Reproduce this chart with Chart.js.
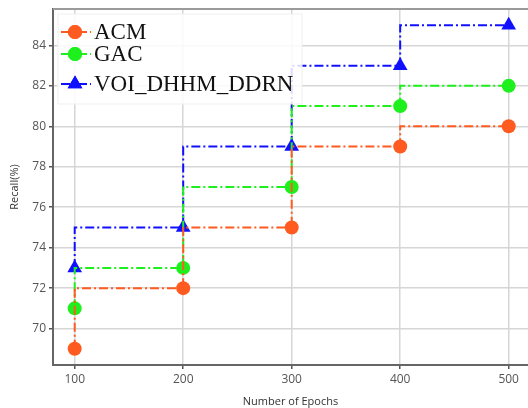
<!DOCTYPE html>
<html>
<head>
<meta charset="utf-8">
<script src="https://cdn.jsdelivr.net/npm/chart.js@4"></script>
<style>
  html, body { margin: 0; padding: 0; background: #fff; overflow: hidden; }
  canvas { display: block; }
</style>
</head>
<body>
<canvas id="chart" width="528" height="408"></canvas>
<script>
// data
const epochs = [100, 200, 300, 400, 500];
const acm = [69, 72, 75, 79, 80];
const gac = [71, 73, 77, 81, 82];
const voi = [73, 75, 79, 83, 85];
const yTicks = [70, 72, 74, 76, 78, 80, 82, 84];

const toPoints = (vals) => vals.map((v, i) => ({ x: epochs[i], y: v }));

const dashDot = [9, 3, 2, 3];

function series(label, vals, color, style, radius) {
  return {
    label: label,
    data: toPoints(vals),
    borderColor: color,
    backgroundColor: color,
    borderWidth: 2,
    borderDash: dashDot,
    stepped: 'after',
    pointStyle: style,
    pointRadius: radius,
    pointBorderWidth: 0,
    pointHoverRadius: radius,
    fill: false,
  };
}

// legend drawn inside the plot, matplotlib style
const innerLegend = {
  id: 'innerLegend',
  afterDatasetsDraw(chart) {
    const ctx = chart.ctx;
    const area = chart.chartArea;
    ctx.save();
    // top spine
    ctx.strokeStyle = '#9a9a9a';
    ctx.lineWidth = 2;
    ctx.beginPath();
    ctx.moveTo(area.left, area.top);
    ctx.lineTo(area.right, area.top);
    ctx.stroke();

    ctx.fillStyle = 'rgba(255,255,255,0.85)';
    ctx.strokeStyle = '#efefef';
    ctx.lineWidth = 1;
    ctx.fillRect(58, 14, 244, 90);
    ctx.strokeRect(58, 14, 244, 90);

    const rows = [32, 54, 84];
    chart.data.datasets.forEach((ds, i) => {
      const y = rows[i];
      ctx.setLineDash(dashDot);
      ctx.strokeStyle = ds.borderColor;
      ctx.lineWidth = 2;
      ctx.beginPath();
      ctx.moveTo(61, y);
      ctx.lineTo(91, y);
      ctx.stroke();
      ctx.setLineDash([]);
      ctx.fillStyle = ds.backgroundColor;
      Chart.helpers.drawPoint(ctx, { pointStyle: ds.pointStyle, radius: ds.pointRadius, borderWidth: 0 }, 75, y);
      ctx.fill();
      ctx.fillStyle = '#111';
      ctx.font = '23px "Liberation Serif", "Times New Roman", serif';
      ctx.textBaseline = 'middle';
      ctx.textAlign = 'left';
      ctx.fillText(ds.label, 94, y + 1);
    });
    ctx.restore();
  }
};

new Chart(document.getElementById('chart'), {
  type: 'line',
  data: {
    datasets: [
      series('ACM', acm, '#ff5a1f', 'circle', 7),
      series('GAC', gac, '#1ef01e', 'circle', 7),
      series('VOI_DHHM_DDRN', voi, '#1010ff', 'triangle', 8.5),
    ],
  },
  options: {
    responsive: false,
    animation: false,
    layout: { autoPadding: false, padding: { top: 9, right: 0, left: 0, bottom: 0 } },
    plugins: {
      legend: { display: false },
      tooltip: { enabled: false },
    },
    scales: {
      x: {
        type: 'linear',
        min: 80,
        max: 517.8,
        afterBuildTicks: (scale) => { scale.ticks = epochs.map((v) => ({ value: v })); },
        afterFit: (scale) => {
          scale.height = 43;
          scale.paddingLeft = 0;
          scale.paddingRight = 0;
        },
        grid: { color: '#d6d6d6', lineWidth: 1.5, tickLength: 4, tickColor: '#555' },
        border: { display: true, color: '#666', width: 2 },
        ticks: {
          color: '#555',
          padding: 3,
          maxRotation: 0,
          font: { family: '"Open Sans", "DejaVu Sans", sans-serif', size: 12 },
        },
        title: {
          display: true,
          text: 'Number of Epochs',
          color: '#333',
          padding: { top: 5, bottom: 0 },
          font: { family: '"Open Sans", "DejaVu Sans", sans-serif', size: 11 },
        },
      },
      y: {
        min: 68.2,
        max: 85.8,
        afterBuildTicks: (scale) => { scale.ticks = yTicks.map((v) => ({ value: v })); },
        afterFit: (scale) => {
          scale.width = 53;
          scale.paddingTop = 0;
          scale.paddingBottom = 0;
        },
        grid: { color: '#d6d6d6', lineWidth: 1.5, tickLength: 4, tickColor: '#555' },
        border: { display: true, color: '#666', width: 2 },
        ticks: {
          color: '#555',
          padding: 3,
          font: { family: '"Open Sans", "DejaVu Sans", sans-serif', size: 12 },
        },
        title: {
          display: true,
          text: 'Recall(%)',
          color: '#333',
          padding: { top: 8, bottom: 0 },
          font: { family: '"Open Sans", "DejaVu Sans", sans-serif', size: 11 },
        },
      },
    },
  },
  plugins: [innerLegend],
});
</script>
</body>
</html>
